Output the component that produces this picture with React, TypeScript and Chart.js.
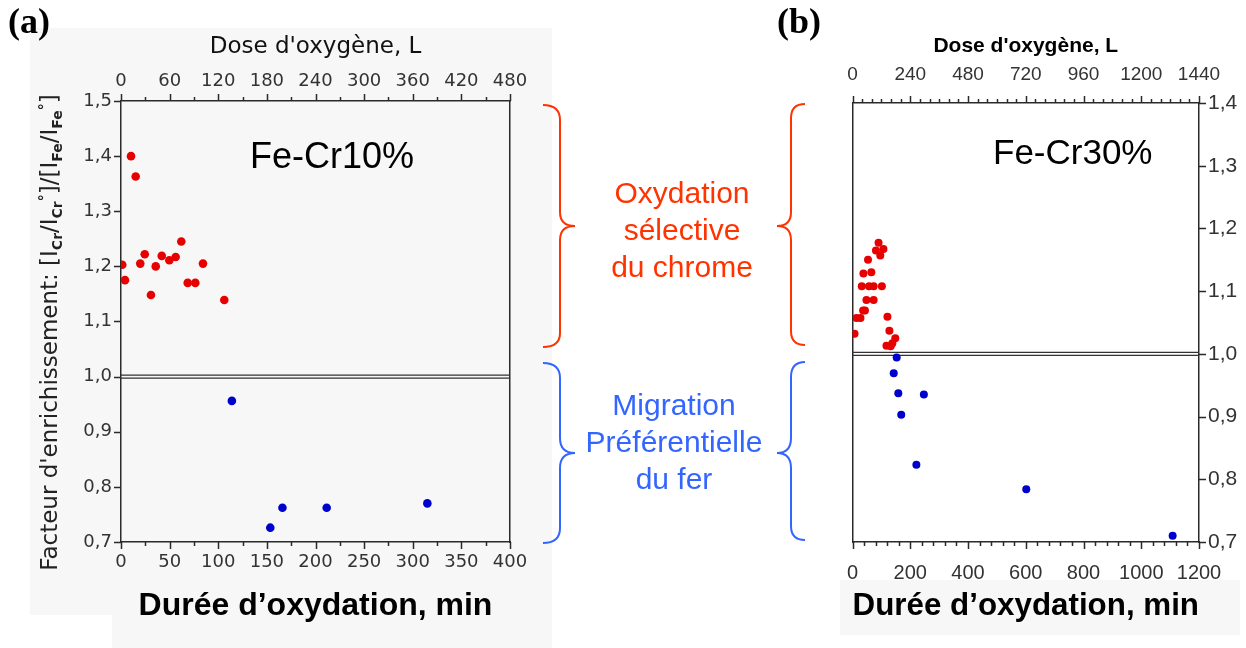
import React, { useEffect, useRef } from "react";
import { Chart, registerables } from "chart.js";

Chart.register(...registerables);

// ---------- Panel (a) : Fe-Cr10% ----------
const A_RED_TIME = [1.3, 4.1, 10.3, 15.1, 19.8, 24.4, 30.8, 35.7, 41.9, 49.7, 56.2, 62, 68.6, 76.4, 84.3, 106.2];
const A_RED_FACTOR = [1.203, 1.175, 1.4, 1.363, 1.205, 1.222, 1.148, 1.2, 1.219, 1.211, 1.217, 1.245, 1.17, 1.17, 1.205, 1.139];
const A_BLUE_TIME = [114, 153.5, 166, 211.5, 315];
const A_BLUE_FACTOR = [0.956, 0.726, 0.762, 0.762, 0.77];

const A_BOTTOM_TICKS = [0, 50, 100, 150, 200, 250, 300, 350, 400];
const A_TOP_TICKS = [0, 60, 120, 180, 240, 300, 360, 420, 480];
const A_Y_TICKS = [0.7, 0.8, 0.9, 1.0, 1.1, 1.2, 1.3, 1.4, 1.5];

// ---------- Panel (b) : Fe-Cr30% ----------
const B_RED_TIME = [6.8, 13.7, 27.4, 31.9, 36.5, 37.6, 43, 48, 53.5, 57, 65, 73, 73, 81, 90, 96, 101.5, 107, 117.4, 120.8, 127.6, 132, 137.8, 148];
const B_RED_FACTOR = [1.032, 1.057, 1.057, 1.108, 1.069, 1.128, 1.069, 1.086, 1.15, 1.108, 1.13, 1.108, 1.086, 1.165, 1.177, 1.157, 1.108, 1.167, 1.013, 1.059, 1.037, 1.012, 1.017, 1.025];
const B_BLUE_TIME = [142.6, 152.8, 158.4, 168.6, 221, 247, 601.7, 1108.7];
const B_BLUE_FACTOR = [0.969, 0.994, 0.937, 0.903, 0.823, 0.935, 0.784, 0.71];

const B_BOTTOM_TICKS = [0, 200, 400, 600, 800, 1000, 1200];
const B_TOP_TICKS = [0, 240, 480, 720, 960, 1200, 1440];
const B_Y_TICKS = [0.7, 0.8, 0.9, 1.0, 1.1, 1.2, 1.3, 1.4];

const REF_VALUE = 1.0;

// ---------- Texts ----------
const TITLE_TIME = "Durée d’oxydation, min";
const TITLE_DOSE = "Dose d'oxygène, L";
const LABEL_A = "Fe-Cr10%";
const LABEL_B = "Fe-Cr30%";
const ANNOT_RED = ["Oxydation", "sélective", "du chrome"];
const ANNOT_BLUE = ["Migration", "Préférentielle", "du fer"];

const RED = "#e60000";
const BLUE = "#0000cc";
const AXIS = "#2a2a2a";
const ANN_RED = "#ff3300";
const ANN_BLUE = "#3366ff";

const pts = (xs: number[], ys: number[]) => xs.map((x, i) => ({ x, y: ys[i] }));
const fmtComma = (v: number) => Number(v).toFixed(1).replace(".", ",");
const setTicks = (values: number[]) => (s: any) => {
  s.ticks = values.map((v) => ({ value: v }));
};

type TickSpec = { id: string; side: string; ticks: number[]; div: number; len: number; minorLen: number };

function tickMarksPlugin(specs: TickSpec[]) {
  return {
    id: "tickMarks",
    afterDraw(chart: any) {
      const ctx = chart.ctx;
      const ca = chart.chartArea;
      ctx.save();
      ctx.strokeStyle = AXIS;
      ctx.lineWidth = 1.5;
      for (const sp of specs) {
        const sc = chart.scales[sp.id];
        const all: [number, number][] = [];
        for (let i = 0; i < sp.ticks.length; i++) {
          all.push([sp.ticks[i], sp.len]);
          if (i < sp.ticks.length - 1) {
            for (let k = 1; k < sp.div; k++) {
              all.push([sp.ticks[i] + ((sp.ticks[i + 1] - sp.ticks[i]) * k) / sp.div, sp.minorLen]);
            }
          }
        }
        ctx.beginPath();
        for (const [v, l] of all) {
          const p = Math.round(sc.getPixelForValue(v)) + 0.5;
          if (sp.side === "bottom") {
            ctx.moveTo(p, ca.bottom);
            ctx.lineTo(p, ca.bottom + l);
          } else if (sp.side === "top") {
            ctx.moveTo(p, ca.top);
            ctx.lineTo(p, ca.top - l);
          } else if (sp.side === "left") {
            ctx.moveTo(ca.left, p);
            ctx.lineTo(ca.left - l, p);
          } else {
            ctx.moveTo(ca.right, p);
            ctx.lineTo(ca.right + l, p);
          }
        }
        ctx.stroke();
      }
      ctx.restore();
    },
  };
}

function refLinePlugin(yId: string, gap: number) {
  return {
    id: "refLine",
    beforeDatasetsDraw(chart: any) {
      const ctx = chart.ctx;
      const y = chart.scales[yId].getPixelForValue(REF_VALUE);
      const { left, right } = chart.chartArea;
      ctx.save();
      ctx.strokeStyle = "#333";
      ctx.lineWidth = 1.3;
      ctx.beginPath();
      ctx.moveTo(left, y - gap / 2);
      ctx.lineTo(right, y - gap / 2);
      ctx.moveTo(left, y + gap / 2);
      ctx.lineTo(right, y + gap / 2);
      ctx.stroke();
      ctx.restore();
    },
  };
}

const yTitlePlugin = {
  id: "yTitleRich",
  afterDraw(chart: any) {
    const ctx = chart.ctx;
    const main = '23px "DejaVu Sans"';
    const sub = 'bold 14px "DejaVu Sans"';
    const segs = [
      { t: "Facteur d'enrichissement: [I", f: main, dy: 0 },
      { t: "Cr", f: sub, dy: 7 },
      { t: "/I", f: main, dy: 0 },
      { t: "Cr", f: sub, dy: 7 },
      { t: "°", f: sub, dy: -6 },
      { t: "]/[I", f: main, dy: 0 },
      { t: "Fe", f: sub, dy: 7 },
      { t: "/I", f: main, dy: 0 },
      { t: "Fe", f: sub, dy: 7 },
      { t: "°", f: sub, dy: -6 },
      { t: "]", f: main, dy: 0 },
    ];
    ctx.save();
    let total = 0;
    const widths = segs.map((s) => {
      ctx.font = s.f;
      const w = ctx.measureText(s.t).width;
      total += w;
      return w;
    });
    const ca = chart.chartArea;
    ctx.translate(ca.left - 70, (ca.top + ca.bottom) / 2 + 11);
    ctx.rotate(-Math.PI / 2);
    ctx.fillStyle = "#222";
    ctx.textBaseline = "middle";
    ctx.textAlign = "left";
    let x = -total / 2;
    segs.forEach((s, i) => {
      ctx.font = s.f;
      ctx.fillText(s.t, x, s.dy);
      x += widths[i];
    });
    ctx.restore();
  },
};

function ChartA() {
  const ref = useRef<HTMLCanvasElement>(null);
  useEffect(() => {
    const tickFont = { family: "DejaVu Sans", size: 18 };
    const chart = new Chart(ref.current as HTMLCanvasElement, {
      type: "scatter",
      data: {
        datasets: [
          { data: pts(A_RED_TIME, A_RED_FACTOR), backgroundColor: RED, borderWidth: 0, pointRadius: 4.3, xAxisID: "x", yAxisID: "y" },
          { data: pts(A_BLUE_TIME, A_BLUE_FACTOR), backgroundColor: BLUE, borderWidth: 0, pointRadius: 4.3, xAxisID: "x", yAxisID: "y" },
        ],
      },
      options: {
        responsive: false,
        animation: false,
        layout: { padding: { left: 0, right: 42, top: 0, bottom: 0 } },
        plugins: { legend: { display: false }, tooltip: { enabled: false } },
        scales: {
          x: {
            type: "linear", position: "bottom", min: 0, max: 400,
            afterBuildTicks: setTicks(A_BOTTOM_TICKS),
            afterFit: (s: any) => { s.height = 106; },
            grid: { display: false, drawTicks: false },
            border: { display: true, color: AXIS, width: 1.5 },
            ticks: { padding: 10, color: "#333", font: tickFont, maxRotation: 0, autoSkip: false, callback: (v: any) => String(v) },
            title: { display: true, text: TITLE_TIME, color: "#000", font: { family: "Liberation Sans", size: 32, weight: "bold" }, padding: { top: 0, bottom: 23 } },
          },
          x2: {
            type: "linear", position: "top", axis: "x", min: 0, max: 480,
            afterBuildTicks: setTicks(A_TOP_TICKS),
            afterFit: (s: any) => { s.height = 101; },
            grid: { display: false, drawTicks: false },
            border: { display: true, color: AXIS, width: 1.5 },
            ticks: { padding: 9, color: "#333", font: tickFont, maxRotation: 0, autoSkip: false, callback: (v: any) => String(v) },
            title: { display: true, text: TITLE_DOSE, color: "#111", font: { family: "DejaVu Sans", size: 23 }, padding: { top: 33, bottom: 0 } },
          },
          y: {
            type: "linear", position: "left", min: 0.7, max: 1.5,
            afterBuildTicks: setTicks(A_Y_TICKS),
            afterFit: (s: any) => { s.width = 121; },
            grid: { display: false, drawTicks: false },
            border: { display: true, color: AXIS, width: 1.5 },
            ticks: { padding: 9, color: "#333", font: tickFont, callback: (v: any) => fmtComma(v) },
          },
          y2: {
            type: "linear", position: "right", axis: "y", min: 0.7, max: 1.5,
            afterFit: (s: any) => { s.width = 0; },
            grid: { display: false, drawTicks: false },
            border: { display: true, color: AXIS, width: 1.5 },
            ticks: { display: false },
          },
        },
      } as any,
      plugins: [
        refLinePlugin("y", 3),
        tickMarksPlugin([
          { id: "x", side: "bottom", ticks: A_BOTTOM_TICKS, div: 2, len: 7, minorLen: 4 },
          { id: "x2", side: "top", ticks: A_TOP_TICKS, div: 2, len: 7, minorLen: 4 },
          { id: "y", side: "left", ticks: A_Y_TICKS, div: 1, len: 7, minorLen: 4 },
        ]),
        yTitlePlugin,
      ] as any,
    });
    return () => chart.destroy();
  }, []);
  return <canvas ref={ref} width={552} height={648} style={{ position: "absolute", left: 0, top: 0, display: "block" }} />;
}

function ChartB() {
  const ref = useRef<HTMLCanvasElement>(null);
  useEffect(() => {
    const chart = new Chart(ref.current as HTMLCanvasElement, {
      type: "scatter",
      data: {
        datasets: [
          { data: pts(B_RED_TIME, B_RED_FACTOR), backgroundColor: RED, borderWidth: 0, pointRadius: 4, xAxisID: "x", yAxisID: "y" },
          { data: pts(B_BLUE_TIME, B_BLUE_FACTOR), backgroundColor: BLUE, borderWidth: 0, pointRadius: 4, xAxisID: "x", yAxisID: "y" },
        ],
      },
      options: {
        responsive: false,
        animation: false,
        layout: { padding: 0 },
        plugins: { legend: { display: false }, tooltip: { enabled: false } },
        scales: {
          x: {
            type: "linear", position: "bottom", min: 0, max: 1200,
            afterBuildTicks: setTicks(B_BOTTOM_TICKS),
            afterFit: (s: any) => { s.height = 106; },
            grid: { display: false, drawTicks: false },
            border: { display: true, color: AXIS, width: 1.5 },
            ticks: { padding: 19, color: "#333", font: { family: "Liberation Sans", size: 20 }, maxRotation: 0, autoSkip: false, callback: (v: any) => String(v) },
            title: { display: true, text: TITLE_TIME, color: "#000", font: { family: "Liberation Sans", size: 32, weight: "bold" }, padding: { top: 0, bottom: 23 } },
          },
          x2: {
            type: "linear", position: "top", axis: "x", min: 0, max: 1440,
            afterBuildTicks: setTicks(B_TOP_TICKS),
            afterFit: (s: any) => { s.height = 103; },
            grid: { display: false, drawTicks: false },
            border: { display: true, color: AXIS, width: 1.5 },
            ticks: { padding: 17, color: "#333", font: { family: "Liberation Sans", size: 19 }, maxRotation: 0, autoSkip: false, callback: (v: any) => String(v) },
            title: { display: true, text: TITLE_DOSE, color: "#000", font: { family: "Liberation Sans", size: 21, weight: "bold" }, padding: { top: 34, bottom: 0 } },
          },
          yL: {
            type: "linear", position: "left", axis: "y", min: 0.7, max: 1.4,
            afterFit: (s: any) => { s.width = 20; },
            grid: { display: false, drawTicks: false },
            border: { display: true, color: AXIS, width: 1.5 },
            ticks: { display: false },
          },
          y: {
            type: "linear", position: "right", min: 0.7, max: 1.4,
            afterBuildTicks: setTicks(B_Y_TICKS),
            afterFit: (s: any) => { s.width = 47; },
            grid: { display: false, drawTicks: false },
            border: { display: true, color: AXIS, width: 1.5 },
            ticks: { padding: 9, color: "#333", font: { family: "Liberation Sans", size: 21 }, callback: (v: any) => fmtComma(v) },
          },
        },
      } as any,
      plugins: [
        refLinePlugin("y", 3),
        tickMarksPlugin([
          { id: "x", side: "bottom", ticks: B_BOTTOM_TICKS, div: 5, len: 7, minorLen: 4 },
          { id: "x2", side: "top", ticks: B_TOP_TICKS, div: 6, len: 7, minorLen: 4 },
          { id: "y", side: "right", ticks: B_Y_TICKS, div: 1, len: 7, minorLen: 4 },
        ]),
      ] as any,
    });
    return () => chart.destroy();
  }, []);
  return <canvas ref={ref} width={418} height={648} style={{ position: "absolute", left: 828, top: 0, display: "block" }} />;
}

const abs = (o: any) => ({ position: "absolute" as const, ...o });

export default function App() {
  const annStyle = (color: string, left: number, top: number) =>
    abs({ left, top, width: 220, textAlign: "center", color, font: '30px "Liberation Sans"', lineHeight: "37px" });
  return (
    <div style={abs({ left: 0, top: 0, width: 1246, height: 648, background: "#fff", overflow: "hidden" })}>
      <div style={abs({ left: 30, top: 28, width: 522, height: 587, background: "#f7f7f7" })} />
      <div style={abs({ left: 112, top: 615, width: 440, height: 33, background: "#f7f7f7" })} />
      <div style={abs({ left: 840, top: 580, width: 400, height: 55, background: "#f7f7f7" })} />
      <ChartA />
      <ChartB />
      <svg width={1246} height={648} style={abs({ left: 0, top: 0, pointerEvents: "none" })}>
        <g fill="none" strokeWidth={2}>
          <path stroke={ANN_RED} d="M543,105 Q560,105 560,120 L560,212 Q560,226 575,226 Q560,226 560,240 L560,333 Q560,347 543,347" />
          <path stroke={ANN_BLUE} d="M543,363 Q560,363 560,378 L560,438 Q560,453 575,453 Q560,453 560,468 L560,528 Q560,543 543,543" />
          <path stroke={ANN_RED} d="M805,104 Q791,104 791,118 L791,212 Q791,226 777,226 Q791,226 791,240 L791,331 Q791,345 805,345" />
          <path stroke={ANN_BLUE} d="M805,362 Q791,362 791,377 L791,438 Q791,453 777,453 Q791,453 791,468 L791,526 Q791,540 805,540" />
        </g>
      </svg>
      <div style={abs({ left: 8, top: 3, font: 'bold 36px "Liberation Serif"', lineHeight: "36px", color: "#000" })}>(a)</div>
      <div style={abs({ left: 777, top: 3, font: 'bold 36px "Liberation Serif"', lineHeight: "36px", color: "#000" })}>(b)</div>
      <div style={abs({ left: 250, top: 138, font: '36px "Liberation Sans"', lineHeight: "36px", color: "#000" })}>{LABEL_A}</div>
      <div style={abs({ left: 993, top: 134, font: '35px "Liberation Sans"', lineHeight: "35px", color: "#000" })}>{LABEL_B}</div>
      <div style={annStyle(ANN_RED, 572, 174)}>
        {ANNOT_RED.map((t) => (<div key={t}>{t}</div>))}
      </div>
      <div style={annStyle(ANN_BLUE, 564, 386)}>
        {ANNOT_BLUE.map((t) => (<div key={t}>{t}</div>))}
      </div>
    </div>
  );
}
